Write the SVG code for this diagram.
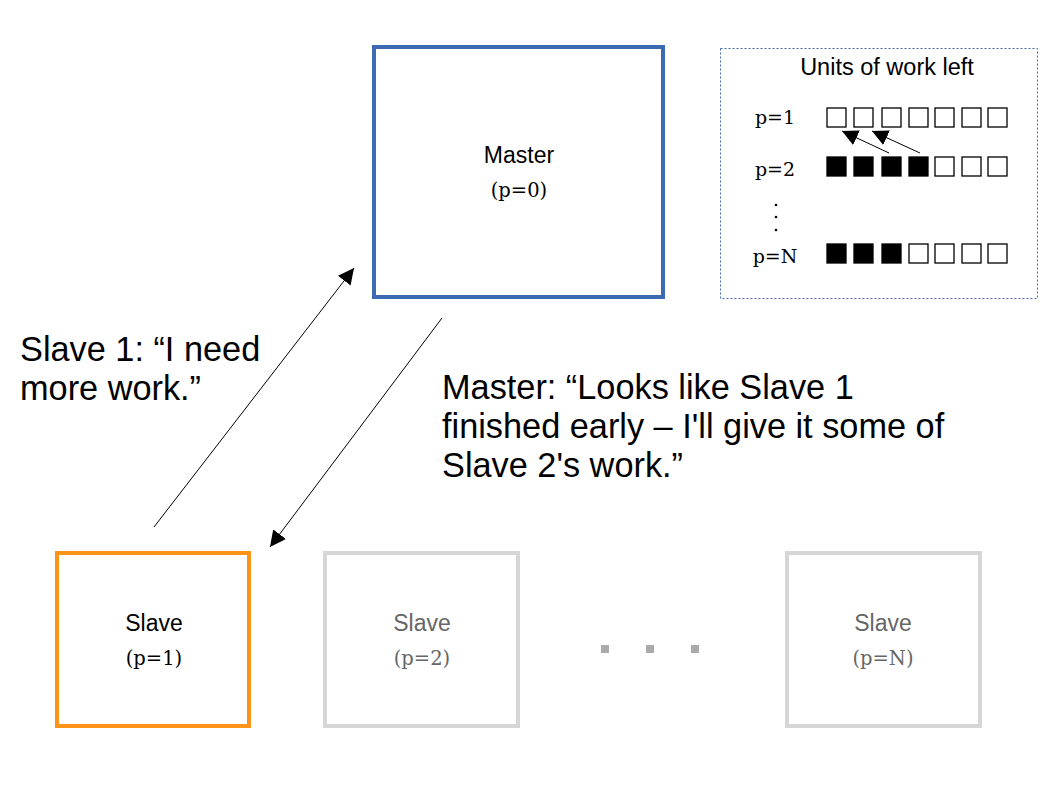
<svg xmlns="http://www.w3.org/2000/svg" width="1058" height="794" viewBox="0 0 1058 794">
<style>
.sans{font-family:"Liberation Sans",Arial,sans-serif}
.serif{font-family:"DejaVu Serif","Liberation Serif",serif}
.lbl{font-size:23px;text-anchor:middle}
.slbl{font-size:19.5px;text-anchor:middle}
.big{font-size:34.3px;fill:#000}
.box{fill:#fff;stroke-width:4}
.u{fill:#fff;stroke:#000;stroke-width:1.3}
.f{fill:#000;stroke:#000;stroke-width:1.3}
.conn{stroke:#000;stroke-width:1;fill:none}
.gray{fill:#666}
</style>
<defs>
<marker id="ah" viewBox="0 0 10 10" refX="10" refY="5" markerWidth="16" markerHeight="16" markerUnits="userSpaceOnUse" orient="auto">
<path d="M0,0 L10,5 L0,10 z" fill="#000"/>
</marker>
</defs>
<rect width="1058" height="794" fill="#fff"/>
<g id="master">
<rect class="box" x="374" y="47" width="289" height="250" stroke="#3d6bb3"/>
<text class="sans lbl" x="519" y="163">Master</text>
<text class="serif slbl" x="519" y="197">(p=0)</text>
</g>
<g id="slave1">
<rect class="box" x="57" y="553" width="192" height="173" stroke="#ff9318"/>
<text class="sans lbl" x="154" y="631">Slave</text>
<text class="serif slbl" x="154" y="665">(p=1)</text>
</g>
<g id="slave2">
<rect class="box" x="325" y="553" width="193" height="173" stroke="#d6d6d6"/>
<text class="sans lbl gray" x="422" y="631">Slave</text>
<text class="serif slbl gray" x="422" y="665">(p=2)</text>
</g>
<g id="slaveN">
<rect class="box" x="787" y="553" width="193" height="173" stroke="#d6d6d6"/>
<text class="sans lbl gray" x="883" y="631">Slave</text>
<text class="serif slbl gray" x="883" y="665">(p=N)</text>
</g>
<g id="ellipsis" fill="#aaaaaa">
<rect x="601" y="645" width="8" height="8"/>
<rect x="646" y="645" width="8" height="8"/>
<rect x="691" y="645" width="8" height="8"/>
</g>
<g id="connectors">
<line class="conn" x1="154" y1="527" x2="354" y2="268" marker-end="url(#ah)"/>
<line class="conn" x1="442" y1="318" x2="270" y2="547" marker-end="url(#ah)"/>
</g>
<g id="labels">
<text class="sans big" x="20" y="361">Slave 1: “I need</text>
<text class="sans big" x="20" y="400">more work.”</text>
<text class="sans big" x="442" y="399">Master: “Looks like Slave 1</text>
<text class="sans big" x="442" y="438">finished early – I'll give it some of</text>
<text class="sans big" x="442" y="477">Slave 2's work.”</text>
</g>
<g id="work-panel">
<rect x="720.5" y="48.5" width="317" height="250" fill="#fff" stroke="#3d6bb3" stroke-width="1" stroke-dasharray="2,2"/>
<text class="sans" x="887" y="75" font-size="23.5" text-anchor="middle">Units of work left</text>
<text class="serif" x="775" y="124" font-size="19" text-anchor="middle">p=1</text>
<text class="serif" x="775" y="176" font-size="19" text-anchor="middle">p=2</text>
<text class="serif" x="775" y="263" font-size="19" text-anchor="middle">p=N</text>
<g fill="#000">
<circle cx="776" cy="205" r="1.3"/>
<circle cx="776" cy="217" r="1.3"/>
<circle cx="776" cy="230" r="1.3"/>
</g>
<g id="row1">
<rect class="u" x="827" y="108" width="19" height="19"/>
<rect class="u" x="854" y="108" width="19" height="19"/>
<rect class="u" x="882" y="108" width="19" height="19"/>
<rect class="u" x="909" y="108" width="19" height="19"/>
<rect class="u" x="935" y="108" width="19" height="19"/>
<rect class="u" x="962" y="108" width="19" height="19"/>
<rect class="u" x="988" y="108" width="19" height="19"/>
</g>
<g id="row2">
<rect class="f" x="827" y="157" width="19" height="19"/>
<rect class="f" x="854" y="157" width="19" height="19"/>
<rect class="f" x="882" y="157" width="19" height="19"/>
<rect class="f" x="909" y="157" width="19" height="19"/>
<rect class="u" x="935" y="157" width="19" height="19"/>
<rect class="u" x="962" y="157" width="19" height="19"/>
<rect class="u" x="988" y="157" width="19" height="19"/>
</g>
<g id="rowN">
<rect class="f" x="827" y="244" width="19" height="19"/>
<rect class="f" x="854" y="244" width="19" height="19"/>
<rect class="f" x="882" y="244" width="19" height="19"/>
<rect class="u" x="909" y="244" width="19" height="19"/>
<rect class="u" x="935" y="244" width="19" height="19"/>
<rect class="u" x="962" y="244" width="19" height="19"/>
<rect class="u" x="988" y="244" width="19" height="19"/>
</g>
<g id="panel-arrows">
<line class="conn" x1="889" y1="153" x2="842" y2="131" marker-end="url(#ah)"/>
<line class="conn" x1="920" y1="153" x2="872" y2="131" marker-end="url(#ah)"/>
</g>
</g>
</svg>
